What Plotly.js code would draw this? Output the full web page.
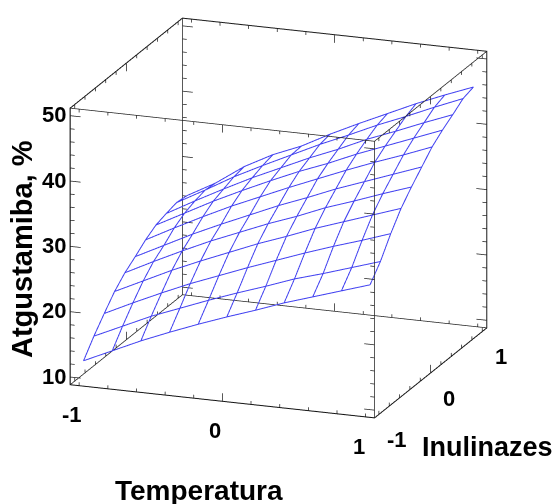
<!DOCTYPE html>
<html><head><meta charset="utf-8">
<script src="https://cdn.plot.ly/plotly-3.0.1.min.js"></script>
<style>html,body{margin:0;padding:0;background:#fff}#c{width:557px;height:504px}</style>
</head><body><div id="c"></div>
<script>
const temperatura=[-1,-0.8,-0.6,-0.4,-0.2,0,0.2,0.4,0.6,0.8,1];
const inulinazes=[-1,-0.8,-0.6,-0.4,-0.2,0,0.2,0.4,0.6,0.8,1];
const atgustamiba=[
[12.1,14.1,16.1,17.9,19.6,21.2,22.7,24.3,25.7,27.1,28.5],
[14.6,16.6,18.6,20.3,22.0,23.6,25.1,26.7,28.0,29.4,30.8],
[16.8,18.9,20.9,22.8,24.5,26.2,27.8,29.4,30.9,32.3,33.8],
[18.9,21.0,23.1,25.0,26.8,28.6,30.2,31.9,33.4,34.9,36.4],
[20.5,22.7,24.8,26.8,28.6,30.4,32.0,33.8,35.3,36.9,38.4],
[21.7,23.9,26.1,28.1,30.0,31.9,33.6,35.4,37.0,38.6,40.2],
[23.0,25.3,27.5,29.6,31.5,33.4,35.2,37.0,38.7,40.3,42.0],
[24.0,26.3,28.6,30.7,32.7,34.6,36.3,38.2,39.9,41.6,43.3],
[24.5,26.9,29.2,31.4,33.4,35.4,37.2,39.2,40.9,42.7,44.4],
[24.9,27.3,29.8,32.0,34.1,36.2,38.1,40.1,41.9,43.8,45.6],
[24.7,27.1,30.1,32.4,34.2,36.5,38.6,40.6,42.6,44.4,46.1]];
const xTicks=[-1,-0.8,-0.6,-0.4,-0.2,0,0.2,0.4,0.6,0.8,1];
const xMajor=[-1,0,1];
const zTicks=[10,12,14,16,18,20,22,24,26,28,30,32,34,36,38,40,42,44,46,48,50];
const zMajor=[10,20,30,40,50];
const xRange=[-1.0638,1.0638], yRange=[-1.087,1.087], zRange=[8.8,51.2];
const F='Liberation Sans, Arial, sans-serif';
const tf={family:F,size:22,color:'#000'};
function ax(range,tv){return {title:{text:''},range:range,autorange:false,tickmode:'array',tickvals:tv,showticklabels:false,ticks:'inside',ticklen:4,tickwidth:1,tickcolor:'#000',showgrid:false,zeroline:false,showbackground:false,showline:true,linecolor:'#000',linewidth:1,mirror:'allticks',showspikes:false};}
const contour={show:true,start:-1,end:1,size:0.2,color:'#4040f0',width:1,highlight:false};
// wireframe lines follow the surface values
const wx=[],wy=[],wz=[];
inulinazes.forEach((y,j)=>{temperatura.forEach((x,i)=>{wx.push(x);wy.push(y);wz.push(atgustamiba[j][i]);});wx.push(null);wy.push(null);wz.push(null);});
temperatura.forEach((x,i)=>{inulinazes.forEach((y,j)=>{wx.push(x);wy.push(y);wz.push(atgustamiba[j][i]);});wx.push(null);wy.push(null);wz.push(null);});
// box edges built from the axis ranges, kept a hair inside the clip bounds
const inset=(r)=>[r[0]+(r[1]-r[0])*0.001,r[1]-(r[1]-r[0])*0.001];
const X=inset(xRange),Y=inset(yRange),Z=inset(zRange);
const bx=[],by=[],bz=[];
function seg(a,b){bx.push(a[0],b[0],null);by.push(a[1],b[1],null);bz.push(a[2],b[2],null);}
for(const p of X)for(const q of Y)seg([p,q,Z[0]],[p,q,Z[1]]);
for(const p of X)for(const q of Z)seg([p,Y[0],q],[p,Y[1],q]);
for(const p of Y)for(const q of Z)seg([X[0],p,q],[X[1],p,q]);
// ticks on every edge, longer at the labelled values away from the corners
const dx=0.014*(X[1]-X[0]),dz=0.012*(Z[1]-Z[0]);
for(const t of zTicks){const k=zMajor.includes(t)?2.4:1;
 seg([X[1],Y[0],t],[X[1]-dx*k,Y[0],t]);seg([X[0],Y[1],t],[X[0]+dx*k,Y[1],t]);
 seg([X[0],Y[0],t],[X[0]+dx*k,Y[0],t]);seg([X[1],Y[1],t],[X[1]-dx*k,Y[1],t]);}
for(const t of xTicks){const k=t===0?2.4:1;
 for(const q of Z){const s=q===Z[0]?1:-1;
  seg([t,Y[0],q],[t,Y[0],q+s*dz*k]);seg([t,Y[1],q],[t,Y[1],q+s*dz*k]);
  seg([X[0],t,q],[X[0],t,q+s*dz*k]);seg([X[1],t,q],[X[1],t,q+s*dz*k]);}}
function tickNote(x,y,z,dxp,dyp,txt){return {x:x,y:y,z:z,text:'<b>'+txt+'</b>',showarrow:false,font:tf,xanchor:'center',yanchor:'middle',xshift:dxp,yshift:dyp};}
const sceneNotes=[
 ...xMajor.map(t=>tickNote(t,yRange[0],zRange[0],-7,-29,String(t))),
 ...xMajor.map(t=>tickNote(xRange[1],t,zRange[0],18,-25,String(t))),
 ...zMajor.map(t=>tickNote(xRange[0],yRange[0],t,-16,1,String(t)))];
function note(text,px,py,size,rot){return {text:'<b>'+text+'</b>',xref:'paper',yref:'paper',x:px/557,y:1-py/504,xanchor:'center',yanchor:'middle',showarrow:false,font:{family:F,size:size,color:'#000'},textangle:rot||0};}
Plotly.newPlot('c',[
 {type:'surface',x:temperatura,y:inulinazes,z:atgustamiba,hidesurface:true,showscale:false,hoverinfo:'skip',colorscale:[[0,'#4040f0'],[1,'#4040f0']],contours:{x:contour,y:contour,z:{show:false}}},
 {type:'scatter3d',mode:'lines',x:wx,y:wy,z:wz,line:{color:'#4040f0',width:2},connectgaps:false,hoverinfo:'skip',showlegend:false},
 {type:'scatter3d',mode:'lines',x:bx,y:by,z:bz,line:{color:'#222',width:1.5},connectgaps:false,hoverinfo:'skip',showlegend:false}
],{
 width:557,height:504,margin:{l:0,r:0,t:0,b:0},paper_bgcolor:'#fff',showlegend:false,
 annotations:[note('Temperatura',199,490,28),note('Inulinazes',487,447,27),note('Atgustamiba, %',22,249,29,-90)],
 scene:{domain:{x:[0,1],y:[0.135,1]},aspectmode:'manual',aspectratio:{x:1.49,y:1.49,z:1.33},annotations:sceneNotes,
  camera:{projection:{type:'orthographic'},eye:{x:0.66,y:-1.79,z:0.59},up:{x:0,y:0,z:1},center:{x:0,y:0,z:0}},
  xaxis:ax(xRange,[]),
  yaxis:ax(yRange,[]),
  zaxis:ax(zRange,[])}
},{displayModeBar:false});
</script></body></html>
